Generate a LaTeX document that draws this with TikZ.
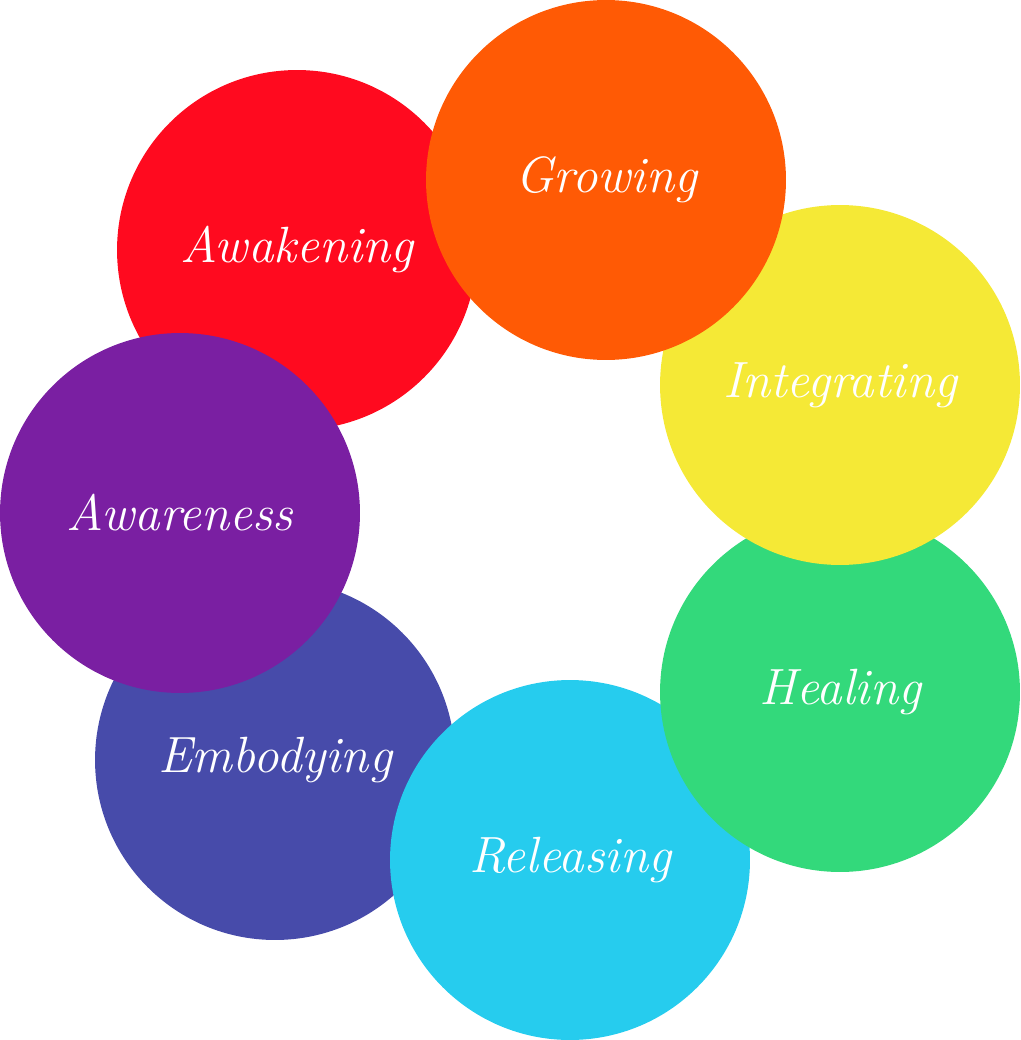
\documentclass[tikz,border=0pt]{standalone}
\definecolor{cawaken}{HTML}{FF0A1F}
\definecolor{cgrow}{HTML}{FF5A05}
\definecolor{cinteg}{HTML}{F5E936}
\definecolor{cheal}{HTML}{33D97B}
\definecolor{crelease}{HTML}{26CCEE}
\definecolor{cembody}{HTML}{474BAA}
\definecolor{caware}{HTML}{7A1FA2}
\begin{document}
\begin{tikzpicture}[x=0.02cm,y=-0.02cm,
  disc/.style={circle,inner sep=0pt,minimum size=7.2cm,text=white,
    font=\itshape\fontsize{29}{34}\selectfont}]
            \useasboundingbox (0,0) rectangle (1020,1040);
            % back to front
            \node[disc,fill=cembody] (embody) at (275,760) {Embodying};
            \node[disc,fill=crelease] (release) at (570,860) {Releasing};
            \node[disc,fill=cheal] (heal) at (840,692) {Healing};
            \node[disc,fill=cinteg] (integ) at (840,385) {Integrating};
            \node[disc,fill=cawaken] (awaken) at (297,250) {Awakening};
            \node[disc,fill=cgrow] (grow) at (606,180) {Growing};
            \node[disc,fill=caware] (aware) at (180,513) {Awareness};
        \end{tikzpicture}
\end{document}
